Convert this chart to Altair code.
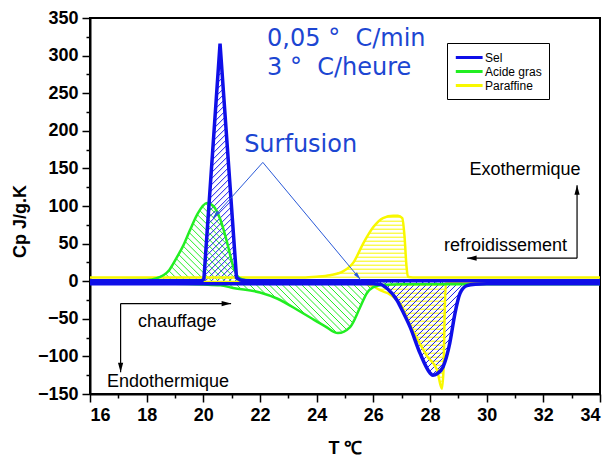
import altair as alt
import pandas as pd
import numpy as np

# ---------------- data ----------------
X_MIN, X_MAX = 16, 34
Y_MIN, Y_MAX = -150, 350
W, H = 510, 376
KX = W / (X_MAX - X_MIN)
KY = H / (Y_MAX - Y_MIN)

series_names = ["Sel", "Acide gras", "Paraffine"]
series_colors = ["#0f0fe8", "#22ee22", "#f8f800"]

# Sel (salt) - cooling (crystallisation peak) and heating (melting)
sel_cool_T = [16, 19.95, 20.02, 20.59, 21.17, 21.3, 21.5, 34]
sel_cool_V = [0.5, 0.5, 3, 316, 5, 1.5, 0.5, 0.5]
sel_heat_T = [16, 26.0, 26.24, 26.5, 26.83, 27.05, 27.3, 27.65, 28.0, 28.1,
              28.25, 28.46, 28.7, 28.88, 29.06, 29.3, 29.6, 30, 34]
sel_heat_V = [-3.5, -3.5, -4, -10, -25, -41, -61, -96, -122, -125,
              -123, -114, -82, -43, -16, -6, -4, -3.5, -3.5]

# Acide gras (fatty acid)
acide_cool_T = [16, 18.0, 18.36, 18.8, 19.07, 19.3, 19.53, 19.8, 20.13, 20.35,
                20.6, 20.85, 21.05, 21.25, 21.5, 22, 34]
acide_cool_V = [1, 1.5, 4, 15, 32, 48, 68, 90, 104, 100,
                82, 50, 20, 5, 1.5, 1, 1]
acide_heat_T = [16, 19, 20, 20.6, 21.05, 22, 22.6, 23.4, 23.8, 24.3, 24.75,
                25.18, 25.53, 25.77, 26.0, 26.3, 27, 34]
acide_heat_V = [-3, -3.5, -4.5, -5.5, -9, -15, -23, -40, -49, -60, -69,
                -61, -35, -16, -8, -5, -4, -4]

# Paraffine
paraf_cool_T = [16, 23.5, 24.0, 24.47, 24.93, 25.3, 25.64, 26.0, 26.34, 26.7,
                26.87, 27.02, 27.1, 27.17, 27.22, 27.4, 34]
paraf_cool_V = [5, 5, 6, 8, 13, 25, 50, 72, 84, 87,
                87, 84, 60, 20, 6, 5, 5]
paraf_heat_T = [16, 25.0, 25.5, 26.0, 26.24, 26.6, 27.0, 27.22, 27.6, 27.9,
                28.25, 28.42, 28.48, 28.52, 28.56, 29, 34]
paraf_heat_V = [-1, -1, -2, -7, -12, -18, -33, -52, -80, -100,
                -118, -143, -115, -40, -2, -1, -1]

curves = [
    ("Paraffine", "cool", paraf_cool_T, paraf_cool_V, 1, "h"),
    ("Paraffine", "heat", paraf_heat_T, paraf_heat_V, -1, "h"),
    ("Acide gras", "cool", acide_cool_T, acide_cool_V, 1, -1),
    ("Acide gras", "heat", acide_heat_T, acide_heat_V, -1, -1),
    ("Sel", "heat", sel_heat_T, sel_heat_V, -1, 1),
    ("Sel", "cool", sel_cool_T, sel_cool_V, 1, 1),
]
hatch_step = {"Paraffine": 4.0, "Acide gras": 6.5, "Sel": 6.0}

# annotations
rate_texts = ["0,05 °\u00a0 C/min", "3 °\u00a0 C/heure", "Surfusion"]
rate_T = [22.25, 22.25, 21.44]
rate_V = [312.5, 274, 171.5]

note_texts = ["Exothermique", "refroidissement", "chauffage", "Endothermique"]
note_T = [29.39, 28.49, 17.69, 16.6]
note_V = [141, 40, -61, -141]

# surfusion pointer lines (apex -> tips)
surf_T1 = [22.1, 22.1]
surf_V1 = [158, 158]
surf_T2 = [20.34, 25.55]
surf_V2 = [84, 2]

# black direction arrows (start -> tip)
arr_T1 = [17.08, 17.08, 33.19, 33.19]
arr_V1 = [-29.7, -29.7, 30.6, 30.6]
arr_T2 = [20.98, 17.08, 29.31, 33.19]
arr_V2 = [-29.7, -121, 30.6, 127.7]

# ---------------- build tables ----------------
rows = []
for name, kind, T, V, _, _ in curves:
    for i, (t, v) in enumerate(zip(T, V)):
        rows.append({"series": name, "curve": name + "-" + kind, "T": t, "V": v, "i": i})
lines_df = pd.DataFrame(rows)


def runs(mask):
    m = np.concatenate([[False], mask, [False]]).astype(int)
    d = np.diff(m)
    starts = np.where(d == 1)[0]
    ends = np.where(d == -1)[0] - 1
    return list(zip(starts, ends))


def hatch(T, V, sign, mode, step):
    xp = (np.asarray(T, float) - X_MIN) * KX
    yp = np.asarray(V, float) * KY
    xs = np.arange(xp[0], xp[-1], 0.2)
    fs = np.interp(xs, xp, yp)
    segs = []
    if mode == "h":
        u = sign * fs
        for L in np.arange(step, u.max(), step):
            for a, b in runs(u >= L):
                if b > a:
                    segs.append((xs[a], sign * L, xs[b], sign * L))
    else:
        d = mode
        act = sign * fs > 1.0
        xa, fa = xs[act], fs[act]
        ylo, yhi = min(0, fa.min()), max(0, fa.max())
        cands = [ylo - d * xa.min(), ylo - d * xa.max(), yhi - d * xa.min(), yhi - d * xa.max()]
        for c in np.arange(min(cands), max(cands), step):
            y = d * xs + c
            inside = act & (y >= np.minimum(0, fs)) & (y <= np.maximum(0, fs))
            for a, b in runs(inside):
                if b > a:
                    segs.append((xs[a], y[a], xs[b], y[b]))
    return [{"T": x0 / KX + X_MIN, "V": y0 / KY, "T2": x1 / KX + X_MIN, "V2": y1 / KY}
            for x0, y0, x1, y1 in segs]


hatch_rows = []
for name, kind, T, V, sign, mode in curves:
    for s in hatch(T, V, sign, mode, hatch_step[name]):
        s["series"] = name
        hatch_rows.append(s)
hatch_df = pd.DataFrame(hatch_rows)


def heads(T1, V1, T2, V2, size):
    out = []
    h = np.sqrt(size) / 2
    for a, b, c, e in zip(T1, V1, T2, V2):
        dx = (c - a) * KX
        dy = -(e - b) * KY
        n = np.hypot(dx, dy)
        ux, uy = dx / n, dy / n
        ang = np.degrees(np.arctan2(dx, -dy)) % 360
        out.append({"T": c - h * ux / KX, "V": e + h * uy / KY, "angle": ang})
    return pd.DataFrame(out)


surf_df = pd.DataFrame({"T": surf_T1, "V": surf_V1, "T2": surf_T2, "V2": surf_V2})
arr_df = pd.DataFrame({"T": arr_T1, "V": arr_V1, "T2": arr_T2, "V2": arr_V2})
surf_heads = heads(surf_T1, surf_V1, surf_T2, surf_V2, 64)
arr_heads = heads(arr_T1, arr_V1, arr_T2, arr_V2, 90)
rate_df = pd.DataFrame({"text": rate_texts, "T": rate_T, "V": rate_V})
note_df = pd.DataFrame({"text": note_texts, "T": note_T, "V": note_V})

# ---------------- chart ----------------
xscale = alt.Scale(domain=[X_MIN, X_MAX], nice=False, zero=False)
yscale = alt.Scale(domain=[Y_MIN, Y_MAX], nice=False, zero=False)
cscale = alt.Scale(domain=series_names, range=series_colors)

x_axis = alt.Axis(
    values=list(range(16, 35)),
    labelExpr="datum.value % 2 === 0 ? datum.label : ''",
    tickSize={"condition": {"test": "datum.value % 2 === 0", "value": 8}, "value": 4},
    title="T ℃", titleX=255, titleY=59, titleBaseline="alphabetic",
    grid=False,
)
y_axis = alt.Axis(
    values=list(range(-150, 351, 25)),
    labelExpr="datum.value % 50 === 0 ? datum.label : ''",
    tickSize={"condition": {"test": "datum.value % 50 === 0", "value": 8}, "value": 4},
    title="Cp J/g.K", titleX=-65, titleY=203, titleAngle=270,
    titleBaseline="alphabetic", titleAlign="center",
    grid=False,
)

X = alt.X("T:Q", scale=xscale, axis=x_axis)
Y = alt.Y("V:Q", scale=yscale, axis=y_axis)

layers = []
for name, col in zip(["Paraffine", "Acide gras", "Sel"], ["#f8f800", "#22ee22", "#1c1cee"]):
    sub = hatch_df[hatch_df.series == name]
    layers.append(
        alt.Chart(sub).mark_rule(strokeWidth=1, color=col).encode(
            x=X, y=Y, x2="T2:Q", y2="V2:Q")
    )

color_enc = alt.Color("series:N", scale=cscale, title=None)
for name, width in [("Paraffine", 2.5), ("Acide gras", 2.5)]:
    sub = lines_df[lines_df.series == name]
    layers.append(
        alt.Chart(sub).mark_line(interpolate="monotone", strokeWidth=width).encode(
            x=X, y=Y, color=color_enc, detail="curve:N", order="i:Q")
    )
layers.append(
    alt.Chart(lines_df[lines_df.curve == "Sel-heat"]).mark_line(
        interpolate="monotone", strokeWidth=3.5).encode(
        x=X, y=Y, color=color_enc, order="i:Q")
)
layers.append(
    alt.Chart(lines_df[lines_df.curve == "Sel-cool"]).mark_line(
        interpolate="linear", strokeWidth=3.5).encode(
        x=X, y=Y, color=color_enc, order="i:Q")
)

# surfusion pointers
layers.append(alt.Chart(surf_df).mark_rule(color="#2a5ad8", strokeWidth=1).encode(
    x=X, y=Y, x2="T2:Q", y2="V2:Q"))
layers.append(alt.Chart(surf_heads).mark_point(
    shape="M0,-1L-0.5,1L0.5,1Z", filled=True, color="#2a5ad8", opacity=1, size=64).encode(
    x=X, y=Y, angle=alt.Angle("angle:Q", scale=None)))

# black arrows
layers.append(alt.Chart(arr_df).mark_rule(color="black", strokeWidth=1.2).encode(
    x=X, y=Y, x2="T2:Q", y2="V2:Q"))
layers.append(alt.Chart(arr_heads).mark_point(
    shape="M0,-1L-0.55,1L0.55,1Z", filled=True, color="black", opacity=1, size=90).encode(
    x=X, y=Y, angle=alt.Angle("angle:Q", scale=None)))

# texts
layers.append(alt.Chart(rate_df).mark_text(
    font="DejaVu Sans", fontSize=24, color="#1c46d2", align="left", baseline="alphabetic").encode(
    x=X, y=Y, text="text:N"))
layers.append(alt.Chart(note_df).mark_text(
    font="Liberation Sans", fontSize=18, color="black", align="left", baseline="alphabetic").encode(
    x=X, y=Y, text="text:N"))

chart = alt.layer(*layers).properties(
    width=W, height=H,
    autosize=alt.AutoSizeParams(type="none"),
    padding={"left": 90, "top": 18, "right": 12, "bottom": 62},
).configure_view(
    stroke="black", strokeWidth=2
).configure_axis(
    domainColor="black", domainWidth=2, tickColor="black", tickWidth=1.5,
    labelFont="Liberation Sans", labelFontSize=18, labelFontWeight="bold",
    labelColor="black", labelPadding=4,
    titleFont="Liberation Sans", titleFontSize=18, titleFontWeight="bold",
    titleColor="black",
).configure_legend(
    orient="none", legendX=357, legendY=25,
    symbolType="M-1,0H3.7", symbolSize=130, symbolStrokeWidth=3,
    labelFont="Liberation Sans", labelFontSize=12, labelColor="black",
    labelOffset=16, rowPadding=0, padding=7,
    strokeColor="black", fillColor="white", cornerRadius=0,
)

chart.save("out.html", embed_options={"renderer": "svg", "actions": False})
